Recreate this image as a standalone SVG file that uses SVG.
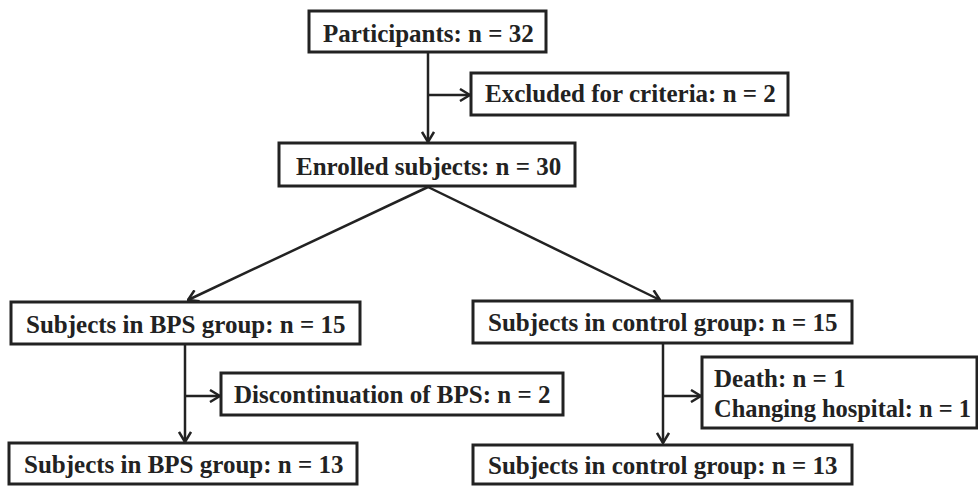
<svg xmlns="http://www.w3.org/2000/svg" width="978" height="486" viewBox="0 0 978 486">
<style>
.box{fill:#fff;stroke:#222;stroke-width:3}
.t{font-family:"Liberation Serif","Times New Roman",serif;font-weight:bold;font-size:25px;fill:#222}
.ln{fill:none;stroke:#222;stroke-width:2.5}
</style>
<defs>
<marker id="ah" markerUnits="userSpaceOnUse" viewBox="0 0 12 14" refX="11" refY="7" markerWidth="12" markerHeight="14" orient="auto">
<path d="M1,1 L11,7 L1,13" fill="none" stroke="#222" stroke-width="2.5"/>
</marker>
</defs>
<rect width="978" height="486" fill="#fff"/>
<g id="connectors">
<line class="ln" x1="428" y1="52" x2="428" y2="142" marker-end="url(#ah)"/>
<line class="ln" x1="428" y1="95" x2="470" y2="95" marker-end="url(#ah)"/>
<line class="ln" x1="428" y1="187" x2="188" y2="300" marker-end="url(#ah)"/>
<line class="ln" x1="428" y1="187" x2="660" y2="300" marker-end="url(#ah)"/>
<line class="ln" x1="185" y1="344" x2="185" y2="442" marker-end="url(#ah)"/>
<line class="ln" x1="185" y1="396" x2="220" y2="396" marker-end="url(#ah)"/>
<line class="ln" x1="663" y1="343" x2="663" y2="443" marker-end="url(#ah)"/>
<line class="ln" x1="663" y1="396" x2="701" y2="396" marker-end="url(#ah)"/>
</g>
<g id="participants">
<rect class="box" x="309" y="11" width="237" height="41"/>
<text class="t" x="323" y="42">Participants: n = 32</text>
</g>
<g id="excluded">
<rect class="box" x="471" y="73" width="317" height="42"/>
<text class="t" x="485" y="102">Excluded for criteria: n = 2</text>
</g>
<g id="enrolled">
<rect class="box" x="279" y="143" width="296" height="43"/>
<text class="t" x="296" y="175">Enrolled subjects: n = 30</text>
</g>
<g id="bps15">
<rect class="box" x="11" y="302" width="349" height="42"/>
<text class="t" x="26" y="333">Subjects in BPS group: n = 15</text>
</g>
<g id="control15">
<rect class="box" x="473" y="301" width="379" height="42"/>
<text class="t" x="488" y="331">Subjects in control group: n = 15</text>
</g>
<g id="discontinuation">
<rect class="box" x="221" y="373" width="342" height="42"/>
<text class="t" x="234" y="403">Discontinuation of BPS: n = 2</text>
</g>
<g id="death">
<rect class="box" x="702" y="357" width="275" height="71"/>
<text class="t" x="714" y="387">Death: n = 1</text>
<text class="t" x="714" y="417" textLength="257" lengthAdjust="spacingAndGlyphs">Changing hospital: n = 1</text>
</g>
<g id="bps13">
<rect class="box" x="9" y="443" width="348" height="41"/>
<text class="t" x="24" y="473">Subjects in BPS group: n = 13</text>
</g>
<g id="control13">
<rect class="box" x="473" y="445" width="379" height="39"/>
<text class="t" x="488" y="474">Subjects in control group: n = 13</text>
</g>
</svg>
